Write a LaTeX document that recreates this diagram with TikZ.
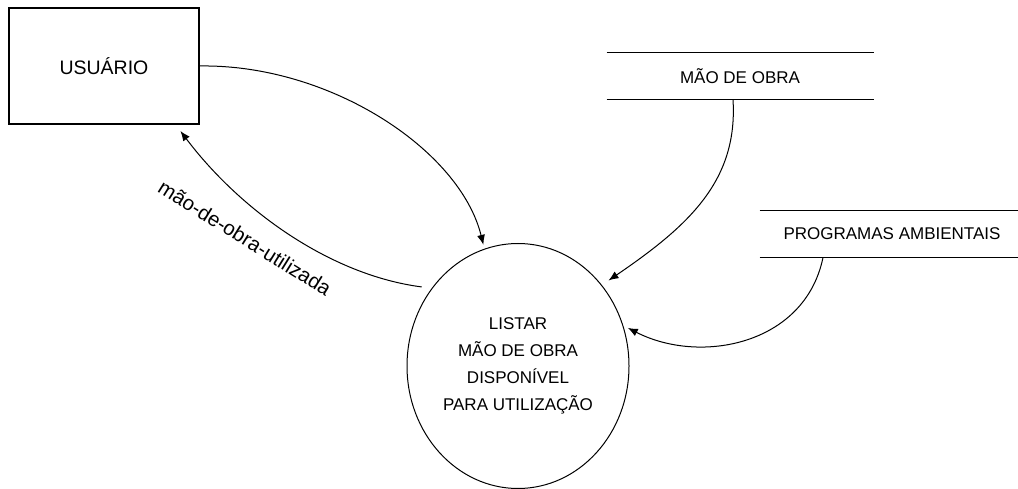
\documentclass[tikz,border=0pt]{standalone}
\usepackage{fontspec}
\setmainfont{Liberation Sans}
\usetikzlibrary{arrows.meta,shapes.geometric}
\begin{document}
\begin{tikzpicture}[x=1pt,y=-1pt,
  line width=1pt,
  flow/.style={-{Latex[length=10pt,width=8pt]}},
  entity/.style={draw,line width=1.2pt,minimum width=190pt,minimum height=116pt,inner sep=0pt,font=\fontsize{19.5}{23}\selectfont},
  process/.style={draw,ellipse,minimum width=222pt,minimum height=245pt,inner sep=0pt,align=center,font=\fontsize{17}{27}\selectfont},
  store/.style={minimum height=46pt,inner sep=0pt,font=\fontsize{17}{20}\selectfont},
  lbl/.style={font=\fontsize{20.5}{23}\selectfont,inner sep=0pt}]
\useasboundingbox (0,0) rectangle (1018,489);
\node[entity] (usr) at (104,66) {USUÁRIO};
\node[process] (proc) at (518,366) {LISTAR\\MÃO DE OBRA\\DISPONÍVEL\\PARA UTILIZAÇÃO};
\node[store,minimum width=266pt] (st1) at (740,76) {MÃO DE OBRA};
\draw[line width=1.2pt] (st1.north west) -- (st1.north east) (st1.south west) -- (st1.south east);
\node[store,minimum width=264pt] (st2) at (892,234) {PROGRAMAS AMBIENTAIS};
\draw[line width=1.2pt] (st2.north west) -- (st2.north east) (st2.south west) -- (st2.south east);
% flows
\draw[flow,shorten >=4pt] (usr.east) .. controls (330,64) and (460,150) .. (proc.106);
\draw[flow,shorten <=10pt,shorten >=8pt] (proc.138) .. controls (330,275) and (240,210) .. ([xshift=-24pt]usr.south east);
\node[lbl,rotate=-32] (lb) at (245,238) {mão-de-obra-utilizada};
\draw[flow,shorten >=8pt] ([xshift=-7pt]st1.south) .. controls (738,180) and (690,225) .. (proc.44);
\draw[flow,shorten >=5pt] ([xshift=-69pt]st2.south) .. controls (805,345) and (700,365) .. (proc.21);
\end{tikzpicture}
\end{document}
